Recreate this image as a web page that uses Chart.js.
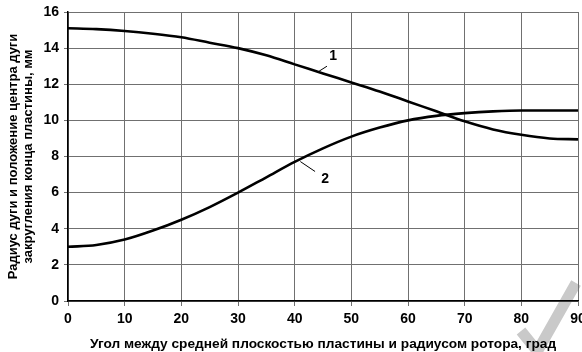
<!DOCTYPE html>
<html>
<head>
<meta charset="utf-8">
<script src="https://cdn.jsdelivr.net/npm/chart.js@4"></script>
<style>
  html, body { margin: 0; padding: 0; background: #fff; }
  #wrap { width: 582px; height: 352px; }
</style>
</head>
<body>
<div id="wrap"><canvas id="arcChart"></canvas></div>
<script>
// Angle, degrees
const angles = [0, 5, 10, 15, 20, 25, 30, 35, 40, 45, 50, 55, 60, 65, 70, 75, 80, 85, 90];
// Curve 1: arc radius, mm
const curve1 = [15.1, 15.05, 14.95, 14.8, 14.6, 14.3, 14.0, 13.6, 13.1, 12.6, 12.1, 11.6, 11.05, 10.5, 9.95, 9.5, 9.2, 9.0, 8.95];
// Curve 2: arc centre position, mm
const curve2 = [3.0, 3.1, 3.4, 3.9, 4.5, 5.2, 6.0, 6.85, 7.7, 8.45, 9.1, 9.6, 10.0, 10.25, 10.4, 10.5, 10.55, 10.55, 10.55];
const xTicks = [0, 10, 20, 30, 40, 50, 60, 70, 80, 90];
const yTicks = [0, 2, 4, 6, 8, 10, 12, 14, 16];

// curve labels: text, label position, leader line start/end (data units)
const curveLabels = [
  { text: '1', at: [46.8, 13.56], from: [44.3, 12.72], to: [45.7, 13.0] },
  { text: '2', at: [45.4, 6.72], from: [41.0, 7.72], to: [43.6, 7.17] },
];

const toPoints = (ys) => angles.map((a, i) => ({ x: a, y: ys[i] }));

const labelPlugin = {
  id: 'curveLabels',
  beforeDraw(chart) {
    // grey scan mark in the lower right corner
    const c = chart.ctx;
    c.save();
    c.strokeStyle = '#c9c9c9';
    c.lineWidth = 11;
    c.lineCap = 'butt';
    c.beginPath();
    c.moveTo(576, 283);
    c.lineTo(537, 352);
    c.moveTo(521, 331);
    c.lineTo(538, 352);
    c.stroke();
    c.restore();
  },
  afterDatasetsDraw(chart) {
    const { ctx, scales: { x, y } } = chart;
    ctx.save();
    ctx.strokeStyle = '#000';
    ctx.lineWidth = 1;
    ctx.fillStyle = '#000';
    ctx.font = 'bold 14px "Liberation Sans", Arial, sans-serif';
    ctx.textAlign = 'center';
    ctx.textBaseline = 'middle';
    curveLabels.forEach((l) => {
      ctx.beginPath();
      ctx.moveTo(x.getPixelForValue(l.from[0]), y.getPixelForValue(l.from[1]));
      ctx.lineTo(x.getPixelForValue(l.to[0]), y.getPixelForValue(l.to[1]));
      ctx.stroke();
      ctx.fillText(l.text, x.getPixelForValue(l.at[0]), y.getPixelForValue(l.at[1]));
    });
    ctx.restore();
  },
};

const fam = '"Liberation Sans", Arial, sans-serif';
const tickFont = { family: fam, size: 14, weight: 'bold' };

const ctx = document.getElementById('arcChart').getContext('2d');
new Chart(ctx, {
  type: 'line',
  data: {
    datasets: [
      { data: toPoints(curve1), borderColor: '#000', borderWidth: 2.6, pointRadius: 0, cubicInterpolationMode: 'monotone', fill: false },
      { data: toPoints(curve2), borderColor: '#000', borderWidth: 2.6, pointRadius: 0, cubicInterpolationMode: 'monotone', fill: false },
    ],
  },
  options: {
    responsive: true,
    maintainAspectRatio: false,
    animation: false,
    layout: { padding: { top: 12, right: 4, left: 0, bottom: 0 } },
    plugins: { legend: { display: false }, tooltip: { enabled: false } },
    scales: {
      x: {
        type: 'linear',
        min: 0,
        max: 90,
        afterBuildTicks: (s) => { s.ticks = xTicks.map((v) => ({ value: v })); },
        afterFit: (s) => { s.height = 51; s.paddingLeft = 0; s.paddingRight = 0; },
        ticks: { color: '#000', font: tickFont, padding: 5, maxRotation: 0 },
        grid: { color: '#707070', lineWidth: 1, tickLength: 5 },
        border: { color: '#000', width: 1.5 },
        title: {
          display: true,
          text: 'Угол между средней плоскостью пластины и радиусом ротора, град',
          color: '#000',
          font: { family: fam, size: 13.7, weight: 'bold' },
          padding: { top: 3, bottom: 0 },
        },
      },
      y: {
        min: 0,
        max: 16,
        afterBuildTicks: (s) => { s.ticks = yTicks.map((v) => ({ value: v })); },
        afterFit: (s) => { s.width = 68; s.paddingTop = 0; s.paddingBottom = 0; },
        ticks: { color: '#000', font: tickFont, padding: 5 },
        grid: { color: '#707070', lineWidth: 1, tickLength: 4 },
        border: { color: '#000', width: 1.5 },
        title: {
          display: true,
          text: ['Радиус дуги и положение центра дуги', 'закругления конца пластины, мм'],
          color: '#000',
          font: { family: fam, size: 13, weight: 'bold', lineHeight: 1.15 },
          padding: { top: 6, bottom: 2 },
        },
      },
    },
  },
  plugins: [labelPlugin],
});
</script>
</body>
</html>
